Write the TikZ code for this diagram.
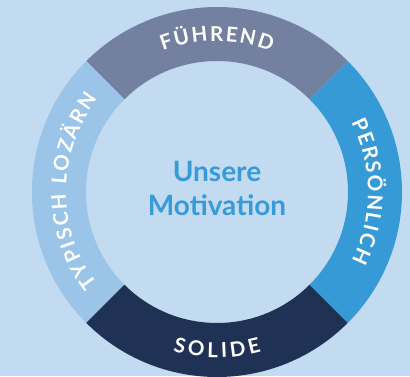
\documentclass[tikz,border=0pt]{standalone}
\usepackage{fontspec}
\setmainfont{Lato}
\usetikzlibrary{decorations.text}
\definecolor{bgc}{HTML}{C2DBF0}
\definecolor{topc}{HTML}{7380A0}
\definecolor{rightc}{HTML}{369AD6}
\definecolor{botc}{HTML}{1F3255}
\definecolor{leftc}{HTML}{9AC4E8}
\definecolor{midc}{HTML}{389BD7}
\newcommand{\ringfont}{\fontsize{20.5}{20.5}\selectfont\bfseries\color{white}}
\tikzset{
  ringlabel/.style={decorate, decoration={text along path, text align=fit to path, text={#1}}}
}
\begin{document}
\begin{tikzpicture}[x=1pt,y=1pt]
\useasboundingbox (0,0) rectangle (410,376);
\clip (0,0) rectangle (410,376);
\fill[bgc] (0,0) rectangle (410,376);
\begin{scope}[shift={(217,184)}]
  \fill[topc] (45:185) arc[start angle=45,end angle=135,radius=185] -- (135:131) arc[start angle=135,end angle=45,radius=131] -- cycle;
  \fill[leftc] (135:185) arc[start angle=135,end angle=225,radius=185] -- (225:131) arc[start angle=225,end angle=135,radius=131] -- cycle;
  \fill[botc] (225:185) arc[start angle=225,end angle=315,radius=185] -- (315:131) arc[start angle=315,end angle=225,radius=131] -- cycle;
  \fill[rightc] (315:185) arc[start angle=315,end angle=405,radius=185] -- (45:131) arc[start angle=45,end angle=-45,radius=131] -- cycle;
  \path[ringlabel={|\ringfont|FÜHREND}] (111:151) arc[start angle=111,end angle=69,radius=151];
  \path[ringlabel={|\ringfont|PERSÖNLICH}] (27.5:151) arc[start angle=27.5,end angle=-27,radius=151];
  \path[ringlabel={|\ringfont|TYPISCH LOZÄRN}] (217.5:151) arc[start angle=217.5,end angle=142,radius=151];
  \path[ringlabel={|\ringfont|SOLIDE}] (254.5:165.5) arc[start angle=254.5,end angle=285.5,radius=165.5];
  \node[align=center, text=midc, font=\fontsize{28}{34}\selectfont\bfseries] (mid) at (0,4) {Unsere\\Motivation};
\end{scope}
\end{tikzpicture}
\end{document}
